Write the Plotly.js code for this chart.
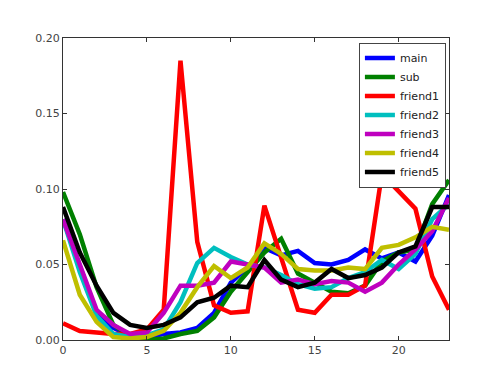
<!DOCTYPE html>
<html>
<head>
<meta charset="utf-8">
<script src="https://cdn.plot.ly/plotly-3.0.1.min.js"></script>
<style>html,body{margin:0;padding:0;background:#fff;}#chart{width:500px;height:378px;}</style>
</head>
<body>
<div id="chart"></div>
<script>
const hours = [0,1,2,3,4,5,6,7,8,9,10,11,12,13,14,15,16,17,18,19,20,21,22,23];
const main    = [0.080,0.050,0.018,0.008,0.003,0.002,0.004,0.005,0.008,0.018,0.038,0.048,0.061,0.056,0.059,0.051,0.050,0.053,0.060,0.054,0.058,0.052,0.069,0.096];
const sub     = [0.098,0.070,0.035,0.010,0.002,0.000,0.001,0.004,0.006,0.015,0.032,0.045,0.058,0.067,0.044,0.038,0.032,0.031,0.036,0.052,0.058,0.060,0.090,0.106];
const friend1 = [0.011,0.006,0.005,0.004,0.004,0.007,0.020,0.185,0.065,0.023,0.018,0.019,0.089,0.055,0.020,0.018,0.030,0.030,0.036,0.110,0.098,0.087,0.042,0.020];
const friend2 = [0.080,0.045,0.016,0.004,0.002,0.003,0.007,0.025,0.051,0.061,0.055,0.050,0.048,0.043,0.037,0.034,0.035,0.041,0.045,0.053,0.047,0.057,0.080,0.090];
const friend3 = [0.080,0.050,0.020,0.010,0.004,0.005,0.018,0.036,0.036,0.038,0.052,0.050,0.048,0.038,0.040,0.037,0.039,0.038,0.032,0.038,0.050,0.060,0.072,0.094];
const friend4 = [0.066,0.030,0.012,0.002,0.001,0.002,0.006,0.018,0.035,0.049,0.041,0.048,0.064,0.057,0.047,0.046,0.046,0.048,0.047,0.061,0.063,0.068,0.075,0.073];
const friend5 = [0.088,0.058,0.036,0.018,0.010,0.008,0.010,0.015,0.025,0.028,0.036,0.035,0.053,0.040,0.035,0.038,0.047,0.041,0.043,0.048,0.058,0.062,0.088,0.088];

const names = ['main','sub','friend1','friend2','friend3','friend4','friend5'];
const series = [main, sub, friend1, friend2, friend3, friend4, friend5];
const colors = ['#0000ff','#008000','#ff0000','#00bfbf','#bf00bf','#bfbf00','#000000'];

const traces = series.map((ys, i) => ({
  x: hours, y: ys, name: names[i], type: 'scatter', mode: 'lines',
  line: {color: colors[i], width: 4.5}
}));

const layout = {
  width: 500, height: 378,
  margin: {l: 63, r: 51, t: 38, b: 38},
  paper_bgcolor: '#fff', plot_bgcolor: '#fff',
  font: {family: 'DejaVu Sans, sans-serif', size: 11, color: '#333'},
  showlegend: true,
  legend: {
    x: 0.992, y: 0.985, xanchor: 'right', yanchor: 'top',
    bgcolor: '#fff', bordercolor: '#444', borderwidth: 1,
    font: {size: 11, color: '#222'}, itemwidth: 30, tracegroupgap: 0
  },
  xaxis: {
    range: [0, 23], tickvals: [0,5,10,15,20], ticktext: ['0','5','10','15','20'],
    showgrid: false, zeroline: false, showline: true, mirror: 'ticks',
    linecolor: '#333', linewidth: 1, ticks: 'inside', ticklen: 4, tickcolor: '#333',
    tickfont: {size: 11, color: '#444'}
  },
  yaxis: {
    range: [0, 0.20], tickvals: [0,0.05,0.10,0.15,0.20], tickformat: '.2f',
    showgrid: false, zeroline: false, showline: true, mirror: 'ticks',
    linecolor: '#333', linewidth: 1, ticks: 'inside', ticklen: 4, tickcolor: '#333',
    tickfont: {size: 11, color: '#444'}
  }
};

Plotly.newPlot('chart', traces, layout, {displayModeBar: false, staticPlot: true});
</script>
</body>
</html>
